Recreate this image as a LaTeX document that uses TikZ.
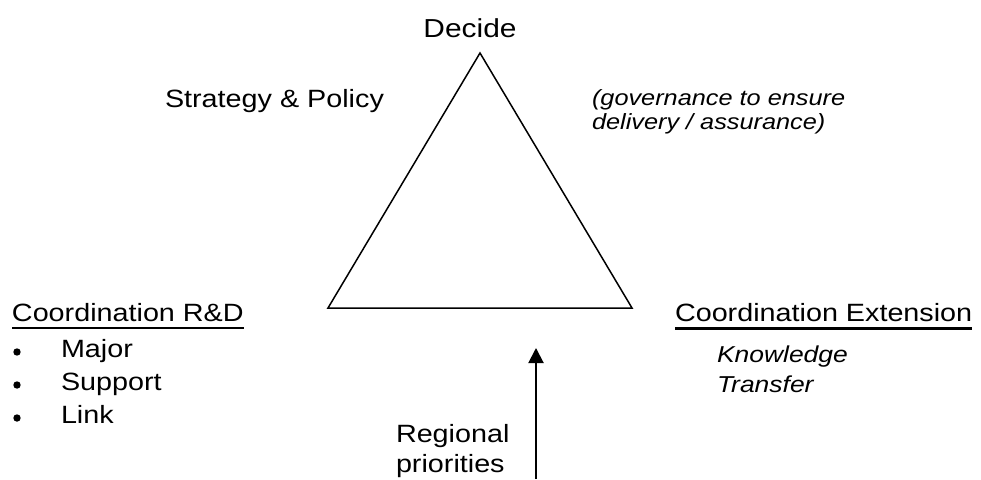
\documentclass[tikz,border=0pt]{standalone}
\usepackage{fontspec}
\setmainfont{Liberation Sans}[FakeStretch=1.15]
\usetikzlibrary{arrows.meta}
\begin{document}
\begin{tikzpicture}[x=1pt,y=-1pt,
  lbl/.style={inner sep=0pt,outer sep=0pt,font=\fontsize{25}{29}\selectfont},
  toplbl/.style={inner sep=0pt,outer sep=0pt,font=\fontsize{26}{30}\selectfont},
  note/.style={inner sep=0pt,outer sep=0pt,font=\fontsize{22}{25}\selectfont\itshape},
  knote/.style={inner sep=0pt,outer sep=0pt,font=\fontsize{23}{28}\selectfont\itshape},
  tri/.style={draw=black,line width=1.5pt,line join=miter},
  uline/.style={draw=black,line width=2.4pt},
  bulletdot/.style={fill=black},
  uparrow/.style={draw=black,line width=2pt,-{Triangle[length=15pt,width=15pt]}}]
\useasboundingbox (0,0) rectangle (981,479);
% triangle corners
\coordinate (apex) at (480,53);
\coordinate (bl) at (328,308);
\coordinate (br) at (632,308);
\draw[tri] (apex) -- (bl) -- (br) -- cycle;
% labels
\node[toplbl,anchor=base] (decide) at (470,37) {Decide};
\node[lbl,anchor=base west] (strategy) at (165,107) {Strategy \& Policy};
\node[note,anchor=base west] (gov1) at (592,105) {(governance to ensure};
\node[note,anchor=base west] (gov2) at (592,129) {delivery / assurance)};
% Coordination R&D
\node[lbl,anchor=base west] (crd) at (12,321) {Coordination R\&D};
\draw[uline] ([yshift=-7pt]crd.base west) -- ([yshift=-7pt]crd.base east);
\node[lbl,anchor=base west] (major) at (61,357) {Major};
\node[lbl,anchor=base west] (support) at (61,390) {Support};
\node[lbl,anchor=base west] (link) at (61,423) {Link};
\fill[bulletdot] (17,352) circle (3.7pt);
\fill[bulletdot] (17,385) circle (3.7pt);
\fill[bulletdot] (17,418) circle (3.7pt);
% Coordination Extension
\node[lbl,anchor=base west] (cext) at (675,321.5) {Coordination Extension};
\draw[uline] ([yshift=-7pt]cext.base west) -- ([yshift=-7pt]cext.base east);
\node[knote,anchor=base west] (know) at (717,362) {Knowledge};
\node[knote,anchor=base west] (transfer) at (717,392) {Transfer};
% Regional priorities
\node[lbl,anchor=base west] (reg1) at (396,442) {Regional};
\node[lbl,anchor=base west] (reg2) at (396,472) {priorities};
\coordinate (arrowtail) at (536,479);
\coordinate (arrowtip) at (536,348);
\draw[uparrow] (arrowtail) -- (arrowtip);
\end{tikzpicture}
\end{document}
